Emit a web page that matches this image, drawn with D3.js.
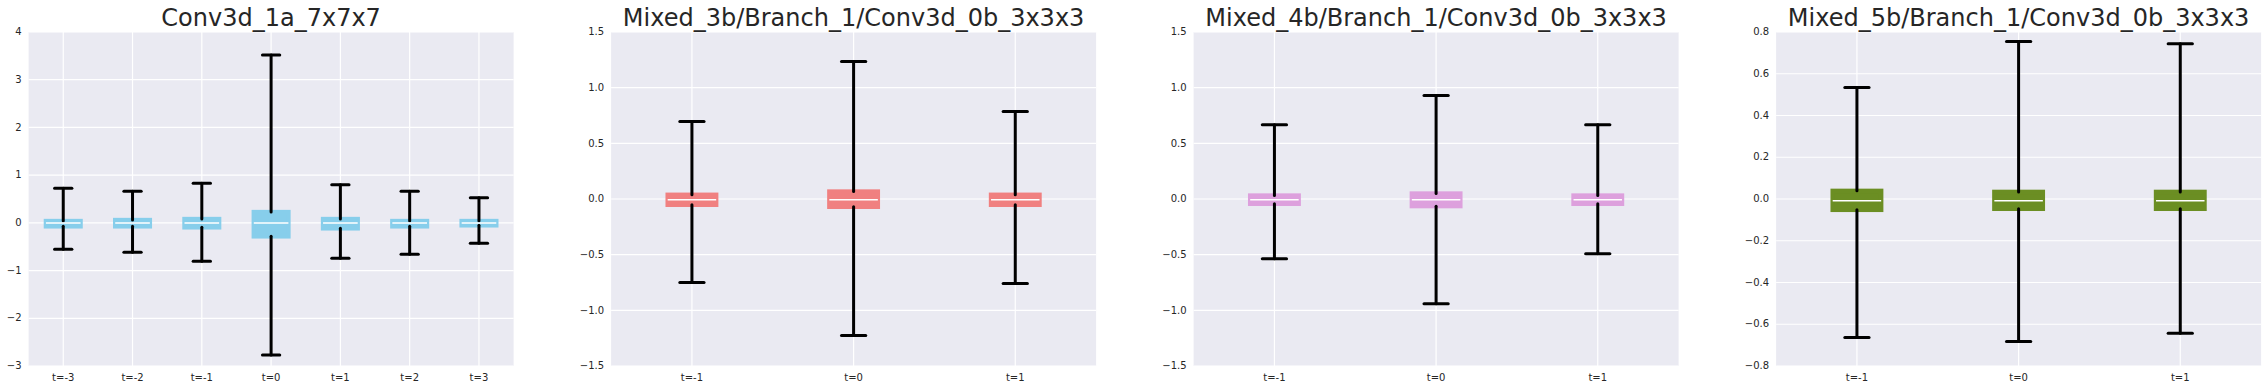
<!DOCTYPE html>
<html>
<head>
<meta charset="utf-8">
<script src="https://cdn.jsdelivr.net/npm/d3@7/dist/d3.min.js"></script>
<style>
  html, body { margin: 0; padding: 0; background: #ffffff; }
  svg { display: block; }
</style>
</head>
<body>
<svg id="chart" width="2268" height="390"></svg>
<script>
// ---------- data ----------
const titles = [
  "Conv3d_1a_7x7x7",
  "Mixed_3b/Branch_1/Conv3d_0b_3x3x3",
  "Mixed_4b/Branch_1/Conv3d_0b_3x3x3",
  "Mixed_5b/Branch_1/Conv3d_0b_3x3x3"
];
const colors = ["#87CEEB", "#F08080", "#DDA0DD", "#6B8E23"];

const cats7 = ["t=-3", "t=-2", "t=-1", "t=0", "t=1", "t=2", "t=3"];
const cats3 = ["t=-1", "t=0", "t=1"];

// Panel 1: Conv3d_1a_7x7x7
const p1Low = [-0.552, -0.615, -0.804, -2.767, -0.740, -0.657, -0.426];
const p1Q1  = [-0.073, -0.073, -0.094, -0.283, -0.115, -0.073, -0.052];
const p1Med = [-0.005, -0.005, -0.005, -0.005, -0.005, -0.005, -0.005];
const p1Q3  = [0.038, 0.059, 0.080, 0.226, 0.080, 0.038, 0.038];
const p1High= [0.727, 0.664, 0.832, 3.520, 0.797, 0.664, 0.524];

// Panel 2: Mixed_3b
const p2Low = [-0.751, -1.227, -0.760];
const p2Q1  = [-0.052, -0.070, -0.052];
const p2Med = [-0.006, -0.006, -0.006];
const p2Q3  = [0.038, 0.067, 0.038];
const p2High= [0.695, 1.234, 0.785];

// Panel 3: Mixed_4b
const p3Low = [-0.536, -0.940, -0.491];
const p3Q1  = [-0.043, -0.064, -0.043];
const p3Med = [-0.006, -0.006, -0.006];
const p3Q3  = [0.031, 0.049, 0.031];
const p3High= [0.668, 0.929, 0.668];

// Panel 4: Mixed_5b
const p4Low = [-0.664, -0.683, -0.643];
const p4Q1  = [-0.052, -0.047, -0.047];
const p4Med = [-0.008, -0.008, -0.008];
const p4Q3  = [0.039, 0.034, 0.034];
const p4High= [0.534, 0.754, 0.744];

// y ticks
const yTicks1 = [-3, -2, -1, 0, 1, 2, 3, 4];
const yTicks2 = [-1.5, -1.0, -0.5, 0.0, 0.5, 1.0, 1.5];
const yTicks3 = [-1.5, -1.0, -0.5, 0.0, 0.5, 1.0, 1.5];
const yTicks4 = [-0.8, -0.6, -0.4, -0.2, 0.0, 0.2, 0.4, 0.6, 0.8];
const yFmt1 = d3.format("d");
const yFmt2 = d3.format(".1f");

// ---------- build panels ----------
const panels = [
  {title: titles[0], cats: cats7, low: p1Low, q1: p1Q1, med: p1Med, q3: p1Q3, high: p1High, ticks: yTicks1, fmt: yFmt1, color: colors[0]},
  {title: titles[1], cats: cats3, low: p2Low, q1: p2Q1, med: p2Med, q3: p2Q3, high: p2High, ticks: yTicks2, fmt: yFmt2, color: colors[1]},
  {title: titles[2], cats: cats3, low: p3Low, q1: p3Q1, med: p3Med, q3: p3Q3, high: p3High, ticks: yTicks3, fmt: yFmt2, color: colors[2]},
  {title: titles[3], cats: cats3, low: p4Low, q1: p4Q1, med: p4Med, q3: p4Q3, high: p4High, ticks: yTicks4, fmt: yFmt2, color: colors[3]}
];

const svg = d3.select("#chart");
const panelLeft0 = 28.6, panelStep = 582.5, panelW = 485;
const plotTop = 32, plotBottom = 366;
const font = "'DejaVu Sans', sans-serif";
const textColor = "#262626";

panels.forEach((p, pi) => {
  const n = p.cats.length;
  const g = svg.append("g").attr("transform", `translate(${panelLeft0 + pi * panelStep},0)`);
  const x = d3.scaleLinear().domain([0.5, n + 0.5]).range([0, panelW]);
  const y = d3.scaleLinear().domain([p.ticks[0], p.ticks[p.ticks.length - 1]]).range([plotBottom, plotTop]);

  const bw = Math.min(0.5, Math.max(0.15, 0.15 * (n - 1))); // matplotlib default box width
  const cw = bw * 0.5;

  // background
  g.append("rect").attr("x", 0).attr("y", plotTop).attr("width", panelW).attr("height", plotBottom - plotTop)
    .attr("fill", "#EAEAF2");

  // grid
  g.selectAll(".hgrid").data(p.ticks).join("line")
    .attr("x1", 0).attr("x2", panelW)
    .attr("y1", d => y(d)).attr("y2", d => y(d))
    .attr("stroke", "#ffffff").attr("stroke-width", 1.2);
  g.selectAll(".vgrid").data(d3.range(1, n + 1)).join("line")
    .attr("x1", d => x(d)).attr("x2", d => x(d))
    .attr("y1", plotTop).attr("y2", plotBottom)
    .attr("stroke", "#ffffff").attr("stroke-width", 1.2);

  // y tick labels
  g.selectAll(".ytl").data(p.ticks).join("text")
    .attr("x", -7).attr("y", d => y(d)).attr("dy", "0.32em")
    .attr("text-anchor", "end")
    .attr("font-family", font).attr("font-size", 10).attr("fill", textColor)
    .text(d => p.fmt(d).replace("-", "\u2212"));

  // x tick labels
  g.selectAll(".xtl").data(p.cats).join("text")
    .attr("x", (d, i) => x(i + 1)).attr("y", 381)
    .attr("text-anchor", "middle")
    .attr("font-family", font).attr("font-size", 10).attr("fill", textColor)
    .text(d => d);

  // title
  g.append("text").attr("x", panelW / 2).attr("y", 26)
    .attr("text-anchor", "middle")
    .attr("font-family", font).attr("font-size", 24).attr("fill", textColor)
    .text(p.title);

  const idx = d3.range(n);
  // boxes
  g.selectAll(".box").data(idx).join("rect")
    .attr("x", i => x(i + 1 - bw / 2))
    .attr("width", i => x(i + 1 + bw / 2) - x(i + 1 - bw / 2))
    .attr("y", i => y(p.q3[i]))
    .attr("height", i => y(p.q1[i]) - y(p.q3[i]))
    .attr("fill", p.color).attr("stroke", p.color).attr("stroke-width", 4.4);

  // whiskers
  const wstyle = sel => sel.attr("stroke", "#000").attr("stroke-width", 3).attr("stroke-linecap", "round");
  g.selectAll(".wup").data(idx).join("line")
    .attr("x1", i => x(i + 1)).attr("x2", i => x(i + 1))
    .attr("y1", i => y(p.q3[i])).attr("y2", i => y(p.high[i])).call(wstyle);
  g.selectAll(".wdn").data(idx).join("line")
    .attr("x1", i => x(i + 1)).attr("x2", i => x(i + 1))
    .attr("y1", i => y(p.q1[i])).attr("y2", i => y(p.low[i])).call(wstyle);
  // caps
  g.selectAll(".cup").data(idx).join("line")
    .attr("x1", i => x(i + 1 - cw / 2)).attr("x2", i => x(i + 1 + cw / 2))
    .attr("y1", i => y(p.high[i])).attr("y2", i => y(p.high[i])).call(wstyle);
  g.selectAll(".cdn").data(idx).join("line")
    .attr("x1", i => x(i + 1 - cw / 2)).attr("x2", i => x(i + 1 + cw / 2))
    .attr("y1", i => y(p.low[i])).attr("y2", i => y(p.low[i])).call(wstyle);

  // medians
  g.selectAll(".med").data(idx).join("line")
    .attr("x1", i => x(i + 1 - bw / 2)).attr("x2", i => x(i + 1 + bw / 2))
    .attr("y1", i => y(p.med[i])).attr("y2", i => y(p.med[i]))
    .attr("stroke", "#ffffff").attr("stroke-width", 1.5);
});
</script>
</body>
</html>
